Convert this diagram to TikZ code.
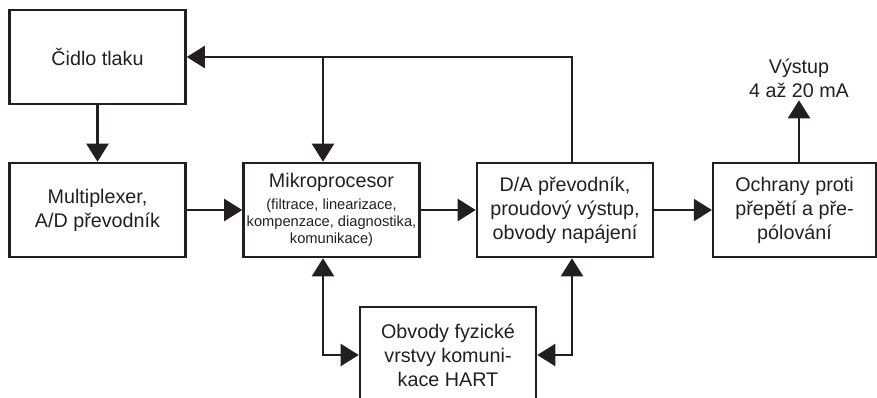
\documentclass[tikz,border=0pt]{standalone}
\usepackage{fontspec}
\setmainfont{Liberation Sans}
\usetikzlibrary{arrows.meta}
\definecolor{BlockInk}{HTML}{231F20}
\tikzset{
  every node/.style={text=BlockInk, font=\fontsize{14.8}{18}\selectfont},
  block/.style={draw=BlockInk, line width=1.9pt, minimum width=132pt, minimum height=70.5pt, align=center, inner sep=0pt},
  flow/.style={-{Triangle[length=13.5pt,width=16.5pt]}, draw=BlockInk, line width=1.6pt},
  duplex/.style={{Triangle[length=13.5pt,width=16.5pt]}-{Triangle[length=13.5pt,width=16.5pt]}, draw=BlockInk, line width=1.6pt},
}

\begin{document}
\begin{tikzpicture}[x=0.75pt,y=-0.75pt]
  \useasboundingbox (0,0) rectangle (877,398);
  % Blocks
  \node[block] (cidlo) at (97.5,57) {Čidlo tlaku};
  \node[block] (mux) at (97.5,210) {Multiplexer,\\A/D převodník};
  \node[block] (mikro) at (331.5,210) {Mikroprocesor\\[-1.5pt]
    {\fontsize{11}{12}\selectfont (filtrace, linearizace,}\\[-5.5pt]
    {\fontsize{11}{12}\selectfont kompenzace, diagnostika,}\\[-5.5pt]
    {\fontsize{11}{12}\selectfont komunikace)}};
  \node[block] (da) at (565,210) {D/A převodník,\\proudový výstup,\\obvody napájení};
  \node[block, minimum width=122pt] (ochrany) at (794.5,210) {Ochrany proti\\přepětí a pře-\\pólování};
  \node[block, minimum height=72pt] (hart) at (448,355) {Obvody fyzické\\vrstvy komuni-\\kace HART};
  % Output
  \node[align=center, inner sep=2pt] (vystup) at (799,78) {Výstup\\4 až 20 mA};
  % Bend points
  \coordinate (busL) at (323,57);
  \coordinate (busR) at (572,57);
  \coordinate (hartL) at (323,355);
  \coordinate (hartR) at (572,355);
  % Signal path
  \draw[flow] (cidlo) -- (mux);
  \draw[flow] (mux) -- (mikro);
  \draw[flow] (mikro) -- (da);
  \draw[flow] (da) -- (ochrany);
  \draw[flow] (ochrany.north -| vystup) -- (vystup.south);
  % Feedback bus
  \draw[flow] (da.north -| busR) -- (busR) -- (cidlo.east);
  \draw[flow] (busL) -- (busL |- mikro.north);
  % HART links
  \draw[duplex] (mikro.south -| hartL) -- (hartL) -- (hart.west);
  \draw[duplex] (da.south -| hartR) -- (hartR) -- (hart.east);
\end{tikzpicture}
\end{document}
